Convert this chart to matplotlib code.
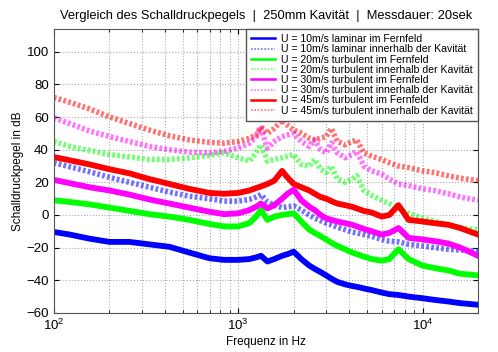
import numpy as np
import matplotlib.pyplot as plt

plt.rcParams['font.family'] = ['Liberation Sans', 'DejaVu Sans']

freq = [100, 122, 156, 201, 257, 330, 424, 543, 698, 838, 1000, 1150, 1250, 1330,
        1440, 1570, 1730, 1850, 2000, 2200, 2430, 2600, 2800, 3000, 3200, 3450,
        3800, 4150, 4400, 4800, 5300, 6000, 6600, 7400, 8400, 10000, 11600,
        13800, 16000, 20000]

u10_fern = [-10.4, -12, -14.5, -16.5, -16.5, -18, -19.5, -23, -26.5, -27.5, -27.5, -27,
            -26, -25, -28.5, -27, -25, -24, -22.5, -27, -31, -33, -35, -37, -39, -41,
            -42.5, -43.5, -44, -45, -46, -47.5, -48.5, -49, -50, -51, -52, -53, -54, -55]
u10_kav = [32, 29.5, 26.5, 23, 20, 17, 14, 11.5, 10, 8.5, 8.5, 9.5, 11, 12.5, 8, 6,
           4.5, 5, 5.5, 3, 0, -2, -3.5, -5, -6, -7.5, -9, -10.5, -11, -12, -13, -15,
           -16, -16.5, -18, -19, -20, -21, -21.5, -22]
u20_fern = [9, 8, 6.5, 4.5, 2.5, 0.5, -1, -3, -5.5, -7, -7, -5, -1, 3, -3, -1, 0, 0.5,
            1, -4, -9, -11, -13, -15, -17, -19, -21, -23, -24, -25.5, -27, -28, -27,
            -21, -27, -31, -32.5, -34, -36, -37]
u20_kav = [45, 42, 39.5, 37, 35.5, 34, 34, 35, 36.5, 38, 35, 33, 38, 43, 33, 34, 35,
           36, 37, 31, 30, 34, 28, 26, 30, 22, 20, 22, 24, 15, 12, 9, 7, 4, 1, -2,
           -4, -6, -8, -9]
u30_fern = [21.5, 19.5, 17, 15, 12.5, 9.5, 7, 4.5, 2, 0.5, 1, 3, 5, 7, 4, 6, 10, 13,
            15.5, 9, 5, 3, 0, -2, -3, -4, -5, -6, -7, -8.5, -10, -12, -11, -8, -14,
            -15, -16, -17.5, -20, -25]
u30_kav = [59.5, 56, 51.5, 48, 45, 42, 40, 38.5, 38, 39, 41, 44, 48, 53, 41, 45, 48,
           49, 50, 45, 42, 46, 40, 38, 44, 38, 35, 37, 39, 30, 27, 25, 22, 19, 18,
           16, 15, 13, 11, 9]
u45_fern = [35.5, 33.5, 31, 28, 25.5, 22, 19, 16, 13.5, 13, 13.5, 15, 16.5, 17.5, 19,
            21, 27, 23, 19, 17, 15, 13, 11, 10, 8.5, 7, 6, 5, 4, 2.5, 1.5, -1, 0, 6,
            -3, -4, -5, -6, -8, -12]
u45_kav = [72, 69, 65, 60, 56, 52, 48.5, 46, 44.5, 44, 45, 47, 49, 54, 50, 53, 58, 55,
           52, 50, 47, 46, 47, 48, 53, 45, 43, 45, 46, 38, 36, 34, 32, 30, 29, 27,
           26, 24, 22.5, 21]

series = [
    (u10_fern, 'b', '-', 'U = 10m/s laminar im Fernfeld'),
    (u10_kav, 'b', ':', 'U = 10m/s laminar innerhalb der Kavität'),
    (u20_fern, 'lime', '-', 'U = 20m/s turbulent im Fernfeld'),
    (u20_kav, 'lime', ':', 'U = 20m/s turbulent innerhalb der Kavität'),
    (u30_fern, 'magenta', '-', 'U = 30m/s turbulent im Fernfeld'),
    (u30_kav, 'magenta', ':', 'U = 30m/s turbulent innerhalb der Kavität'),
    (u45_fern, 'r', '-', 'U = 45m/s turbulent im Fernfeld'),
    (u45_kav, 'r', ':', 'U = 45m/s turbulent innerhalb der Kavität'),
]

fig = plt.figure(figsize=(4.98, 3.52), dpi=100)
ax = fig.add_axes([0.108, 0.111, 0.852, 0.807])

for vals, col, ls, lab in series:
    if ls == '-':
        ax.semilogx(freq, vals, color=col, linestyle='-', linewidth=4.2, label=lab)
    else:
        ax.semilogx(freq, vals, color=col, linestyle=(0, (0.5, 0.4)), linewidth=4,
                    alpha=0.55, label=lab)

ax.set_xlim(100, 20000)
ax.set_ylim(-60, 114)
ax.set_yticks(np.arange(-60, 101, 20))
ax.grid(True, which='both', axis='x', linestyle=':', color='#aaaaaa', linewidth=0.8)
ax.grid(True, which='major', axis='y', linestyle=':', color='#aaaaaa', linewidth=0.8)
ax.tick_params(which='both', direction='in', top=True, right=True, labelsize=9.5)
ax.tick_params(which='minor', length=2)
for s in ax.spines.values():
    s.set_color('#555555')

ax.set_xlabel('Frequenz in Hz', fontsize=8.5, labelpad=2)
ax.set_ylabel('Schalldruckpegel in dB', fontsize=8.5, labelpad=2)
ax.set_title('Vergleich des Schalldruckpegels  |  250mm Kavität  |  Messdauer: 20sek',
             fontsize=9.3, pad=7)

leg = ax.legend(loc='upper right', fontsize=7.6, borderaxespad=0, fancybox=False,
                framealpha=1, edgecolor='#555555', labelspacing=0.02, handlelength=2.2,
                borderpad=0.5, handletextpad=0.6)
for h in leg.get_lines():
    h.set_linewidth(1.8)
    if h.get_alpha() is not None:
        h.set_linewidth(1.2)
        h.set_linestyle((0, (1, 1)))

plt.savefig('out.png', dpi=100)
